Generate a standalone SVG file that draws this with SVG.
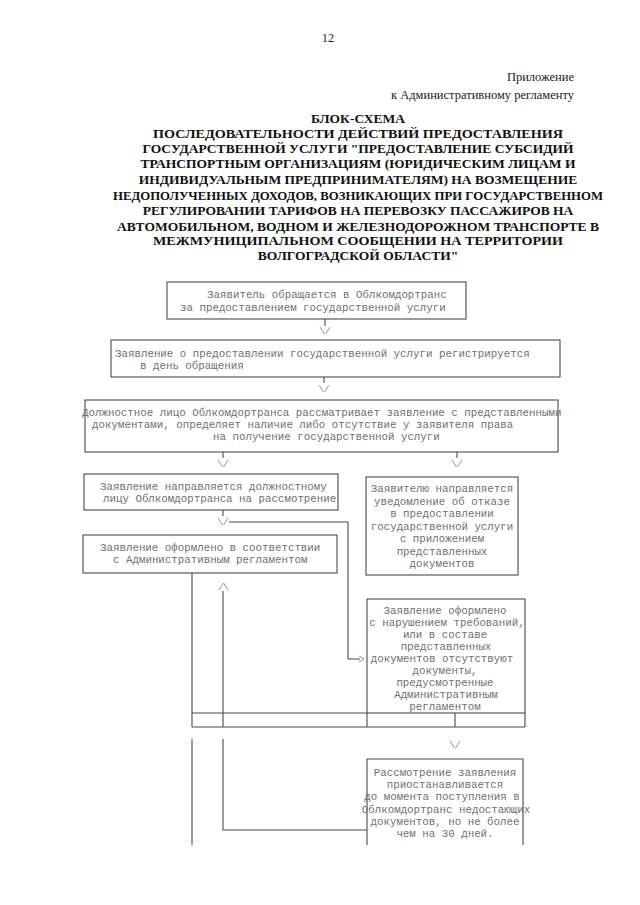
<svg xmlns="http://www.w3.org/2000/svg" width="640" height="905" viewBox="0 0 640 905">
<style>
.hdr{font-family:"Liberation Serif","Times New Roman",serif;font-size:12.5px;fill:#222}
.ttl{font-family:"Liberation Serif","Times New Roman",serif;font-size:13.5px;font-weight:bold;fill:#111;text-anchor:middle}
.t{font-family:"Liberation Mono","Courier New",monospace;font-size:10.8px;fill:#707070}
.c{text-anchor:middle}
.b{fill:none;stroke:#4a4a4a;stroke-width:1.1}
.ln{fill:none;stroke:#4a4a4a;stroke-width:1.1}
.ah{fill:none;stroke:#8a8a8a;stroke-width:0.9}
</style>
<rect width="640" height="905" fill="#fff"/>
<g id="header">
<text class="hdr" x="328" y="42" text-anchor="middle">12</text>
<text class="hdr" x="574" y="81" text-anchor="end">Приложение</text>
<text class="hdr" x="574" y="99" text-anchor="end">к Административному регламенту</text>
</g>
<g id="title">
<text class="ttl" x="358" y="123">БЛОК-СХЕМА</text>
<text class="ttl" x="358" y="138" textLength="410" lengthAdjust="spacingAndGlyphs">ПОСЛЕДОВАТЕЛЬНОСТИ ДЕЙСТВИЙ ПРЕДОСТАВЛЕНИЯ</text>
<text class="ttl" x="358" y="153">ГОСУДАРСТВЕННОЙ УСЛУГИ "ПРЕДОСТАВЛЕНИЕ СУБСИДИЙ</text>
<text class="ttl" x="358" y="168">ТРАНСПОРТНЫМ ОРГАНИЗАЦИЯМ (ЮРИДИЧЕСКИМ ЛИЦАМ И</text>
<text class="ttl" x="358" y="184">ИНДИВИДУАЛЬНЫМ ПРЕДПРИНИМАТЕЛЯМ) НА ВОЗМЕЩЕНИЕ</text>
<text class="ttl" x="358" y="200" textLength="490" lengthAdjust="spacingAndGlyphs">НЕДОПОЛУЧЕННЫХ ДОХОДОВ, ВОЗНИКАЮЩИХ ПРИ ГОСУДАРСТВЕННОМ</text>
<text class="ttl" x="358" y="215">РЕГУЛИРОВАНИИ ТАРИФОВ НА ПЕРЕВОЗКУ ПАССАЖИРОВ НА</text>
<text class="ttl" x="358" y="231">АВТОМОБИЛЬНОМ, ВОДНОМ И ЖЕЛЕЗНОДОРОЖНОМ ТРАНСПОРТЕ В</text>
<text class="ttl" x="358" y="245" textLength="410" lengthAdjust="spacingAndGlyphs">МЕЖМУНИЦИПАЛЬНОМ СООБЩЕНИИ НА ТЕРРИТОРИИ</text>
<text class="ttl" x="358" y="260">ВОЛГОГРАДСКОЙ ОБЛАСТИ"</text>
</g>
<g id="connectors">
<path class="ln" d="M325 319V326"/>
<path class="ah" d="M320 327L324.5 334M325.5 334L330 327"/>
<path class="ln" d="M324 377V383"/>
<path class="ah" d="M319 385L323.5 392M324.5 392L329 385"/>
<path class="ln" d="M223 452V458"/>
<path class="ah" d="M218 460L222.5 467M223.5 467L228 460"/>
<path class="ln" d="M457 452V458"/>
<path class="ah" d="M452 460L456.5 467M457.5 467L462 460"/>
<path class="ln" d="M223 510V516"/>
<path class="ah" d="M218 518L222.5 525M223.5 525L228 518"/>
<path class="ln" d="M229 522H348V659H360"/>
<path class="ah" d="M359 656L364 659L359 662"/>
<path class="ln" d="M192 573V727M192 739V845"/>
<path class="ln" d="M223 591V727M223 739V830H367"/>
<path class="ah" d="M219 590L223.5 583L228 590"/>
<path class="ln" d="M192 713H367M192 727H525M367 713V727M455 713V727M525 713V727"/>
<path class="ah" d="M450 741L454.5 748M455.5 748L460 741"/>
</g>
<g id="n1">
<rect class="b" x="167" y="282" width="299" height="37"/>
<text class="t" x="207" y="298">Заявитель обращается в Облкомдортранс</text>
<text class="t" x="180" y="311">за предоставлением государственной услуги</text>
</g>
<g id="n2">
<rect class="b" x="111" y="340" width="449" height="37"/>
<text class="t" x="115" y="357">Заявление о предоставлении государственной услуги регистрируется</text>
<text class="t" x="140" y="369">в день обращения</text>
</g>
<g id="n3">
<rect class="b" x="85" y="400" width="473" height="52"/>
<text class="t" x="82" y="416">Должностное лицо Облкомдортранса рассматривает заявление с представленными</text>
<text class="t" x="92" y="428">документами, определяет наличие либо отсутствие у заявителя права</text>
<text class="t" x="213" y="440">на получение государственной услуги</text>
</g>
<g id="n4">
<rect class="b" x="84" y="474" width="254" height="36"/>
<text class="t" x="100" y="490">Заявление направляется должностному</text>
<text class="t" x="103" y="502">лицу Облкомдортранса на рассмотрение</text>
</g>
<g id="n5">
<rect class="b" x="366" y="477" width="152" height="98"/>
<text class="t c" x="442" y="492">Заявителю направляется</text>
<text class="t c" x="442" y="504.5">уведомление об отказе</text>
<text class="t c" x="442" y="517">в предоставлении</text>
<text class="t c" x="442" y="529.5">государственной услуги</text>
<text class="t c" x="442" y="542">с приложением</text>
<text class="t c" x="442" y="554.5">представленных</text>
<text class="t c" x="442" y="567">документов</text>
</g>
<g id="n6">
<rect class="b" x="83" y="535" width="254" height="38"/>
<text class="t" x="100" y="551">Заявление оформлено в соответствии</text>
<text class="t" x="113" y="563">с Административным регламентом</text>
</g>
<g id="n7">
<rect class="b" x="367" y="599" width="158" height="114"/>
<text class="t c" x="445" y="614">Заявление оформлено</text>
<text class="t c" x="447" y="626">с нарушением требований,</text>
<text class="t c" x="445" y="638">или в составе</text>
<text class="t c" x="446" y="650">представленных</text>
<text class="t c" x="442" y="662">документов отсутствуют</text>
<text class="t c" x="445" y="674">документы,</text>
<text class="t c" x="445" y="686">предусмотренные</text>
<text class="t c" x="446" y="698">Административным</text>
<text class="t c" x="445" y="710">регламентом</text>
</g>
<g id="n8">
<path class="b" d="M367 845V759H523V845"/>
<text class="t c" x="445" y="776">Рассмотрение заявления</text>
<text class="t c" x="445" y="788">приостанавливается</text>
<text class="t c" x="442" y="800">до момента поступления в</text>
<text class="t c" x="446" y="813">Облкомдортранс недостающих</text>
<text class="t c" x="445" y="825">документов, но не более</text>
<text class="t c" x="445" y="837">чем на 30 дней.</text>
</g>
</svg>
